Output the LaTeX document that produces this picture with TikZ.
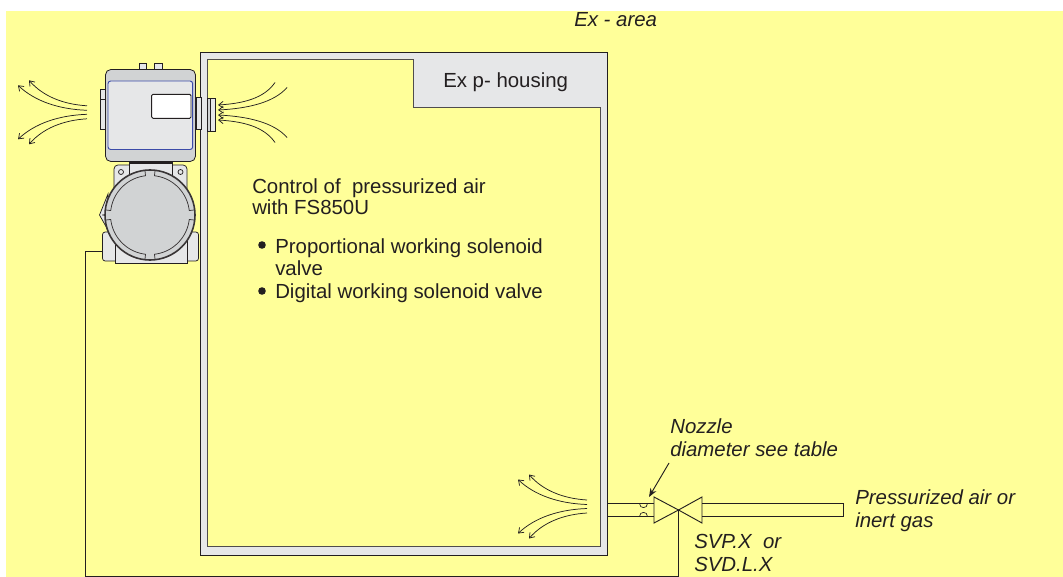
\documentclass[tikz,border=0pt]{standalone}
\usepackage{fontspec}
\setmainfont{Liberation Sans}
\usetikzlibrary{arrows.meta}
\definecolor{bgy}{HTML}{FFFF99}
\definecolor{lgr}{HTML}{E6E7E8}
\definecolor{mgr}{HTML}{D1D3D4}
\definecolor{ink}{HTML}{231F20}
\definecolor{blu}{HTML}{3B4BA8}
\tikzset{
 x=0.75pt,y=-0.75pt,
 ln/.style={draw=ink,line width=0.7pt},
 part/.style={draw=ink,line width=0.55pt,fill=lgr},
 flowout/.style={draw=ink,line width=0.55pt,-{Straight Barb[length=3.5pt,width=5pt]}},
 flowin/.style={draw=ink,line width=0.55pt,{Straight Barb[length=3.5pt,width=5pt]}-},
 txt/.style={font=\fontsize{15.3pt}{19pt}\selectfont,text=ink,anchor=base west,inner sep=0pt},
 itx/.style={txt,font=\fontsize{15.3pt}{19pt}\selectfont\itshape},
}
\newcommand{\fanout}[2]{%
 \begin{scope}[shift={(#1,#2)}]
 \draw[flowout] (0,-6.5) .. controls (-24,-8) and (-44,-16) .. (-58,-32);
 \draw[flowout] (0,-2) .. controls (-28,-3) and (-52,-11) .. (-69,-27);
 \draw[flowout] (0,2) .. controls (-28,3) and (-52,11) .. (-69,27);
 \draw[flowout] (0,6.5) .. controls (-24,8) and (-44,16) .. (-58,32);
 \end{scope}}
\newcommand{\fanin}[2]{%
 \begin{scope}[shift={(#1,#2)}]
 \draw[flowin] (0,-7.5) .. controls (25,-9) and (46,-14) .. (57,-30);
 \draw[flowin] (0,-2.5) .. controls (30,-4) and (56,-10) .. (69,-25);
 \draw[flowin] (0,2.5) .. controls (30,4) and (56,10) .. (69,25);
 \draw[flowin] (0,7.5) .. controls (25,9) and (46,14) .. (57,30);
 \end{scope}}
\begin{document}
\begin{tikzpicture}
\useasboundingbox (0,0) rectangle (1063,577);
\fill[bgy] (6,11) rectangle (1063,577);
% housing
\path[fill=lgr,ln] (200.5,52.7) -- (607.7,52.7) -- (607.7,555) -- (200.5,555) -- cycle;
\path[fill=bgy,draw=ink!80,line width=0.6pt] (207.3,59) -- (413,59) -- (413,107.7) -- (600.7,107.7) -- (600.7,546.7) -- (207.3,546.7) -- cycle;
\node[txt] (housing) at (443,88) {Ex p- housing};
\node[itx] (area) at (574,27) {Ex - area};
% top box
\draw[part] (100,89) rectangle (106,129.7);
\draw[part] (100,89) rectangle (106,99);
\draw[part] (196,97) rectangle (201,129.7);
\draw[part] (207.3,98) rectangle (215.7,131);
\draw[part,fill=mgr] (207.3,98) rectangle (210.5,131);
\draw[part] (139.3,63.7) rectangle (146.7,70);
\draw[part] (154.3,63.7) rectangle (162,70);
\draw[draw=ink,line width=0.6pt,fill=mgr,rounded corners=4pt] (105.5,69.5) rectangle (195.5,161.5);
\draw[draw=blu,line width=0.7pt,fill=lgr,rounded corners=2pt] (108,81) rectangle (192.7,149.5);
\draw[draw=ink,line width=0.7pt,fill=white,rounded corners=1pt] (151.7,94.3) rectangle (191,118.3);
% lower body
\draw[part,rounded corners=3pt] (114,165) rectangle (187,205);
\draw[part] (129.5,161.5) rectangle (172,180);
\fill[ink] (129.5,161.5) rectangle (172,164.5);
\draw[part] (121,172) circle[radius=2.5];
\draw[part] (180.5,172) circle[radius=2.5];
\draw[part,rounded corners=2pt] (102.5,232) rectangle (198.5,261);
\draw[part] (115,235) rectangle (187,263);
\draw[part] (108,194) -- (99.5,215) -- (108,230) -- cycle;
\fill[ink!70] (103,215) circle[radius=1];
\draw[draw=ink!90,line width=1.2pt,fill=mgr] (150,215) circle[radius=45];
\begin{scope}[shift={(150,215)}]
 \foreach \a in {0,90,180,270}
  \draw[draw=ink!90,line width=0.55pt,rotate=\a] (6.5:44.5) -- plot[domain=6.5:83.5,samples=24] (\x:39.5) -- (83.5:44.5);
\end{scope}
% airflow
\fanout{87}{112.3}
\fanin{218}{112.5}
\fanout{587}{506.5}
% pipes and valve
\draw[ln] (607.7,503.5) -- (654,503.5);
\draw[ln] (607.7,516.5) -- (654,516.5);
\draw[ln] (702,503.5) -- (843,503.5) -- (843,516.5) -- (702,516.5);
\draw[draw=ink,line width=0.5pt] (639.5,503.5) .. controls (639.5,509) and (647.5,509) .. (647.5,503.5);
\draw[draw=ink,line width=0.5pt] (639.5,516.5) .. controls (639.5,511) and (647.5,511) .. (647.5,516.5);
\node[draw=none,inner sep=0pt,minimum size=0pt] (valve) at (678.5,510) {};
\draw[ln,line join=miter] (654,497) -- (654,523) -- (valve.center) -- cycle;
\draw[ln,line join=miter] (702,497) -- (702,523) -- (valve.center) -- cycle;
\coordinate (port) at (102.5,251);
\draw[ln] (port) -| (85,576) -| (valve.center);
\coordinate (nozzletail) at (669,463);
\coordinate (nozzletip) at (649,497);
\draw[draw=ink,line width=0.7pt,-{Stealth[length=6.5pt,width=5pt]}] (nozzletail) -- (nozzletip);
% text
\node[txt] (t1) at (252,193.5) {Control of\ \ pressurized air};
\node[txt] (t2) at (252,215) {with FS850U};
\fill[ink] (262,245) circle[radius=3.8];
\fill[ink] (262,291) circle[radius=3.8];
\node[txt] (t3) at (275,253) {Proportional working solenoid};
\node[txt] (t4) at (275,275.5) {valve};
\node[txt] (t5) at (275,298) {Digital working solenoid valve};
\node[itx] (t6) at (670,433) {Nozzle};
\node[itx] (t7) at (670,456) {diameter see table};
\node[itx] (t8) at (855,504) {Pressurized air or};
\node[itx] (t9) at (855,527) {inert gas};
\node[itx] (t10) at (694,548) {SVP.X\ \ or};
\node[itx] (t11) at (694,571) {SVD.L.X};
\end{tikzpicture}
\end{document}
